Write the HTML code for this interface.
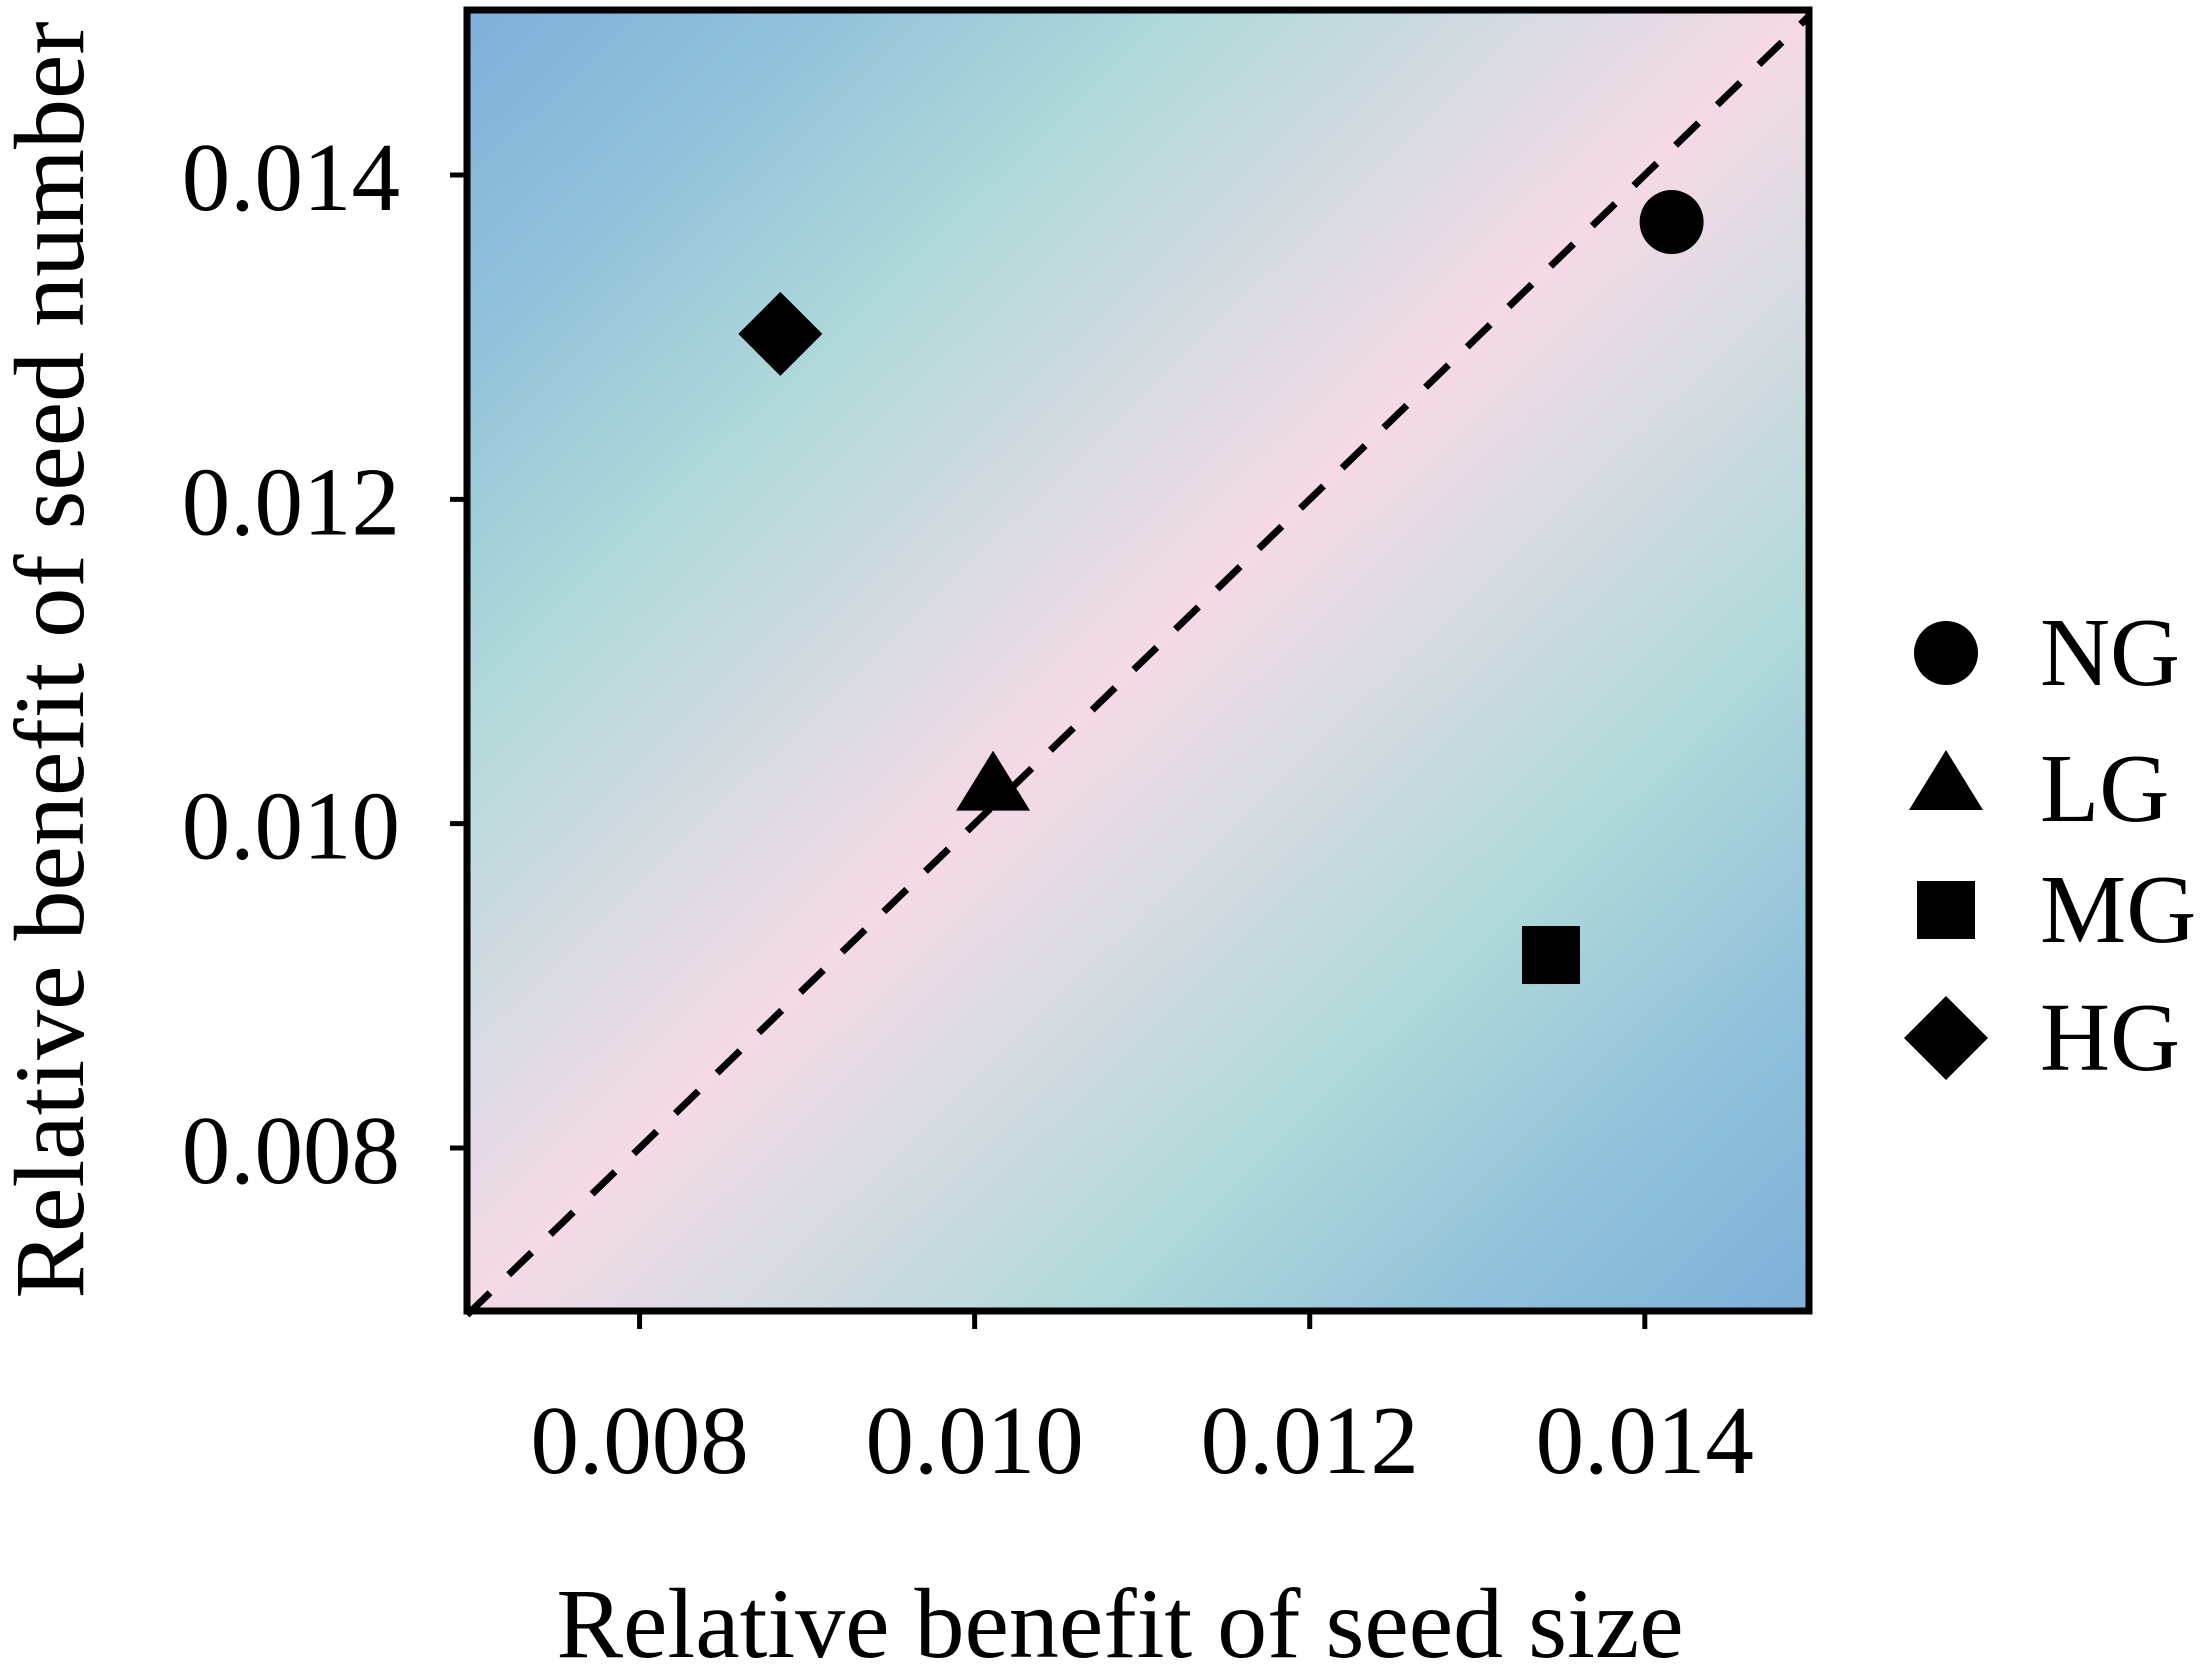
<!DOCTYPE html>
<html><head><meta charset="utf-8"><style>
html,body{margin:0;padding:0;background:#fff;}
svg{display:block;font-family:"Liberation Serif",serif;}
</style></head><body>
<svg id="chart" width="2201" height="1668" viewBox="0 0 2201 1668" xmlns="http://www.w3.org/2000/svg">
<defs>
<linearGradient id="bg" x1="0" y1="0" x2="1" y2="1">
<stop offset="0" stop-color="#7fb0da"/>
<stop offset="0.12" stop-color="#8fc0db"/>
<stop offset="0.27" stop-color="#b0d9d9"/>
<stop offset="0.4" stop-color="#d7dbe2"/>
<stop offset="0.5" stop-color="#f5d9e6"/>
<stop offset="0.6" stop-color="#d7dbe2"/>
<stop offset="0.73" stop-color="#b0d9d9"/>
<stop offset="0.88" stop-color="#8fc0db"/>
<stop offset="1" stop-color="#7fb0da"/>
</linearGradient>
</defs>
<rect x="467" y="10" width="1342" height="1301" fill="url(#bg)"/>
<g id="marks"></g>
<rect x="467" y="10" width="1342" height="1301" fill="none" stroke="#000" stroke-width="7"/>
<g id="axes"></g>
<text x="1120" y="1657" font-size="100" text-anchor="middle">Relative benefit of seed size</text>
<text transform="translate(83,660) rotate(-90)" font-size="100" text-anchor="middle">Relative benefit of seed number</text>
<g id="legend"></g>
</svg>
<script>
const groups = ["NG","LG","MG","HG"];
const xValues = [0.01416, 0.01011, 0.01344, 0.00884];
const yValues = [0.01371, 0.01021, 0.00919, 0.01302];
const ticks = [0.008, 0.010, 0.012, 0.014];
const tickLabels = ["0.008","0.010","0.012","0.014"];
const domain = [0.00697, 0.01498];

const NS="http://www.w3.org/2000/svg";
const L=467,R=1809,T=10,B=1311;
const xs=v=>L+(v-domain[0])/(domain[1]-domain[0])*(R-L);
const ys=v=>175+(0.014-v)/0.006*973;
function mk(tag,attrs,parent){const e=document.createElementNS(NS,tag);for(const k in attrs)e.setAttribute(k,attrs[k]);parent.appendChild(e);return e;}
function shape(kind,cx,cy,s,parent){
  if(kind==="NG") return mk("circle",{cx:cx,cy:cy,r:32*s,fill:"#000"},parent);
  if(kind==="LG") return mk("polygon",{points:`${cx},${cy-39*s} ${cx-37*s},${cy+21*s} ${cx+37*s},${cy+21*s}`,fill:"#000"},parent);
  if(kind==="MG") return mk("rect",{x:cx-29*s,y:cy-29*s,width:58*s,height:58*s,fill:"#000"},parent);
  return mk("polygon",{points:`${cx},${cy-42*s} ${cx+42*s},${cy} ${cx},${cy+42*s} ${cx-42*s},${cy}`,fill:"#000"},parent);
}
const marks=document.getElementById("marks");
const diag=mk("line",{x1:xs(domain[0]),y1:ys(domain[0]),x2:xs(domain[1]),y2:ys(domain[1]),stroke:"#000","stroke-width":7,"stroke-dasharray":"32 26"},marks);


groups.forEach((g,i)=>{
  const p=shape(g,xs(xValues[i]),ys(yValues[i]),1,marks);
  
  
});
const axes=document.getElementById("axes");
ticks.forEach((t,i)=>{
  const x=xs(t);
  const tk=mk("line",{x1:x,y1:B,x2:x,y2:B+18,stroke:"#000","stroke-width":5},axes);
  
  
  const tl=mk("text",{x:x,y:1473,"font-size":97,"text-anchor":"middle"},axes);
  tl.textContent=tickLabels[i];
  
  
  const y=ys(t);
  const yk=mk("line",{x1:L-17,y1:y,x2:L,y2:y,stroke:"#000","stroke-width":5},axes);
  
  
  const yl=mk("text",{x:400,y:y+35,"font-size":97,"text-anchor":"end"},axes);
  yl.textContent=tickLabels[i];
  
  
});
const legend=document.getElementById("legend");
const legY=[653,789,910,1038];
groups.forEach((g,i)=>{
  const m=shape(g,1946,legY[i],1,legend);
  
  
  const t=mk("text",{x:2040,y:legY[i]+32,"font-size":97},legend);
  t.textContent=g;
  
  
});
</script>
</body></html>
